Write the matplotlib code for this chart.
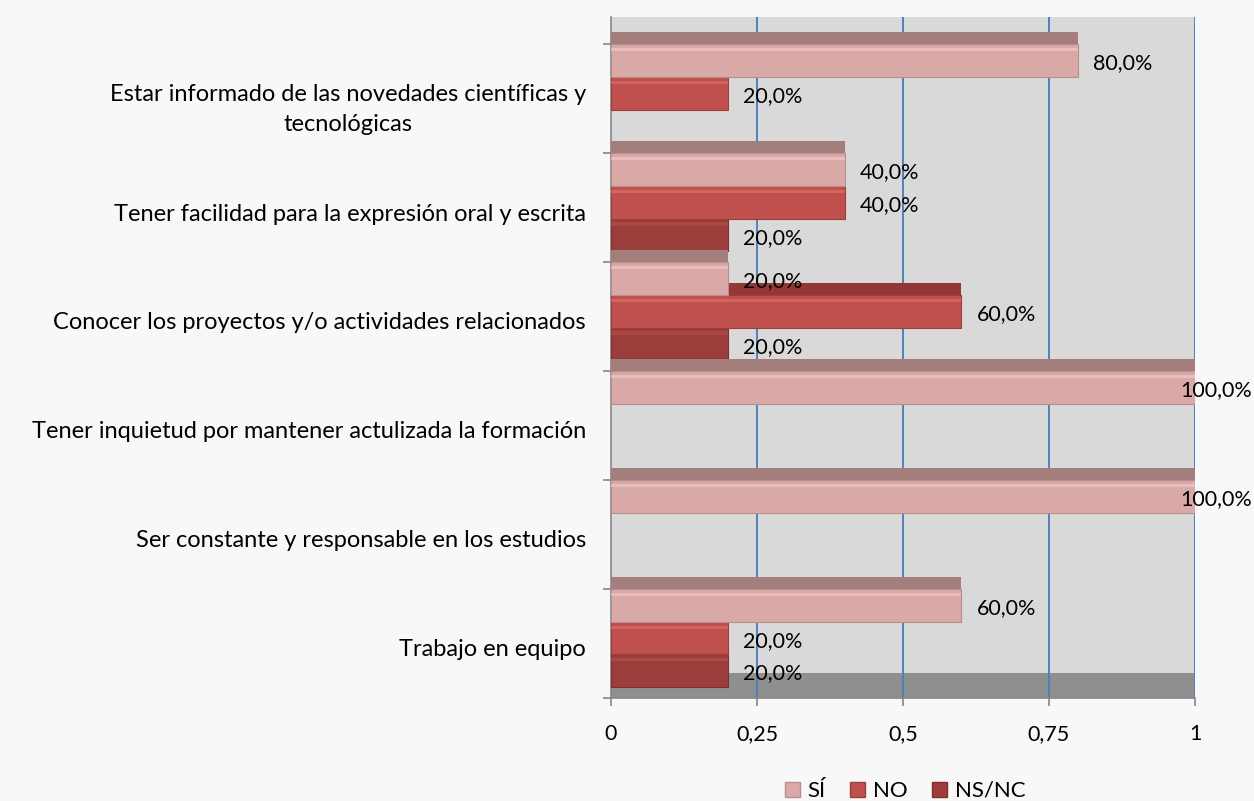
import matplotlib.pyplot as plt
from matplotlib.patches import Patch

# datos (de abajo hacia arriba)
categorias = [
    "Trabajo en equipo",
    "Ser constante y responsable en los estudios",
    "Tener inquietud por mantener actulizada la formación",
    "Conocer los proyectos y/o actividades relacionados",
    "Tener facilidad para la expresión oral y escrita",
    "Estar informado de las novedades científicas y\ntecnológicas",
]
si = [0.6, 1.0, 1.0, 0.2, 0.4, 0.8]
no = [0.2, 0.0, 0.0, 0.6, 0.4, 0.2]
nsnc = [0.2, 0.0, 0.0, 0.2, 0.2, 0.0]
series = ["SÍ", "NO", "NS/NC"]
xticks = [0, 0.25, 0.5, 0.75, 1]
xticklabels = ["0", "0,25", "0,5", "0,75", "1"]

front = ["#d9a9a8", "#c0504d", "#9b3d3b"]
top = ["#a47e7d", "#953735", "#7a2c2a"]
shine = ["#f3cccb", "#e8706c", "#b5504d"]
edge = ["#b88d8c", "#9c3e3b", "#7e302e"]

FONT = "Lato"
FS_CAT = 17
FS_NUM = 15.5
FS_LEG = 16
BAR_H = 0.30
TOP_H = 0.11

fig = plt.figure(figsize=(12.54, 8.01), dpi=100, facecolor="#f8f8f8")
ax = fig.add_axes([611 / 1254, 1 - 698 / 801, 584 / 1254, 681 / 801])
ax.set_facecolor("#d9d9d9")
ax.set_xlim(0, 1)
ax.set_ylim(0, 6.25)

# suelo y rejilla
ax.axhspan(0, 0.23, color="#8f8f8f", zorder=0.5, lw=0)
ax.vlines(xticks[1:], 0, 6.25, color="#4f81bd", lw=1.4, zorder=1)

valores = [si, no, nsnc]
for k in [2, 1, 0]:
    vals = valores[k]
    for i, v in enumerate(vals):
        if v <= 0:
            continue
        y_top = i + 1 - BAR_H * k
        y0 = y_top - BAR_H
        z = 10 - k * 3
        ax.barh(y_top, v, height=TOP_H, align="edge", color=top[k], lw=0, zorder=z)
        ax.barh(y0, v, height=BAR_H, align="edge", color=front[k],
                edgecolor=edge[k], lw=0.8, zorder=z + 1)
        ax.barh(y_top - 0.065, v, height=0.03, align="edge", color=shine[k],
                lw=0, alpha=0.6, zorder=z + 2)
        txt = f"{v * 100:.1f}%".replace(".", ",")
        if v >= 1:
            ax.annotate(txt, (v, y0 + BAR_H / 2), xytext=(41, -2), textcoords="offset points",
                        ha="right", va="center", fontsize=FS_NUM, family=FONT, zorder=20,
                        annotation_clip=False)
        else:
            ax.annotate(txt, (v, y0 + BAR_H / 2), xytext=(11, -2), textcoords="offset points",
                        ha="left", va="center", fontsize=FS_NUM, family=FONT, zorder=20,
                        annotation_clip=False)

# ejes
ax.set_yticks([i + 0.46 for i in range(len(categorias))])
ax.set_yticklabels(categorias, family=FONT, fontsize=FS_CAT, multialignment="center",
                   linespacing=1.5)
ax.set_yticks(range(len(categorias) + 1), minor=True)
ax.tick_params(axis="y", which="major", length=0, pad=18)
ax.tick_params(axis="y", which="minor", length=6, color="#868686", width=1.2)
ax.set_xticks(xticks)
ax.set_xticklabels(xticklabels, family=FONT, fontsize=FS_NUM)
ax.tick_params(axis="x", length=6, color="#868686", width=1.2, pad=13)

for s in ["top", "right"]:
    ax.spines[s].set_visible(False)
for s in ["left", "bottom"]:
    ax.spines[s].set_color("#868686")
    ax.spines[s].set_linewidth(1.2)

handles = [Patch(facecolor=front[k], edgecolor=edge[k], label=series[k]) for k in range(3)]
fig.legend(handles=handles, loc="center", bbox_to_anchor=(0.7217, 0.0125), ncol=3,
           frameon=False, prop={"family": FONT, "size": FS_LEG}, handlelength=0.68,
           handleheight=0.68, handletextpad=0.32, columnspacing=1.13,
           borderpad=0, borderaxespad=0)

fig.savefig("out.png", dpi=100, facecolor=fig.get_facecolor())
